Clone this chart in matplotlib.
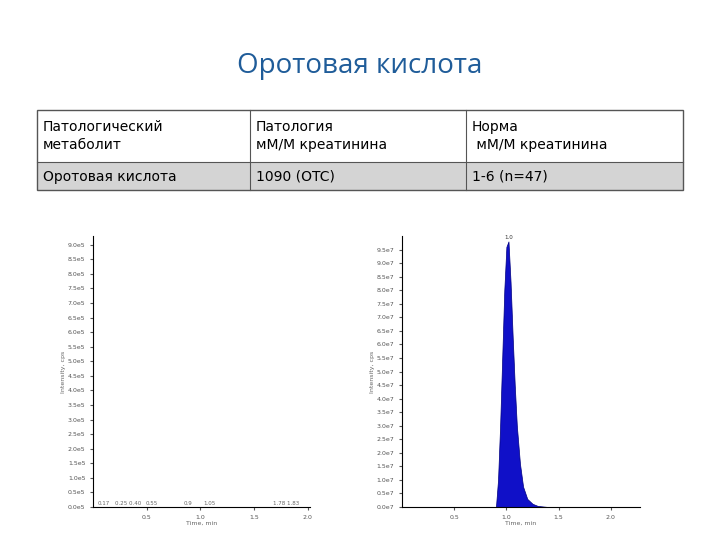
import matplotlib.pyplot as plt
from matplotlib.patches import Rectangle

W, H = 720, 540

title = "Оротовая кислота"
header = ["Патологический\nметаболит", "Патология\nмМ/М креатинина", "Норма\n мМ/М креатинина"]
row = ["Оротовая кислота", "1090 (OTC)", "1-6 (n=47)"]
col_edges = [37, 250, 466, 683]

# right chromatogram peak (time, min; intensity, cps)
peak_t = [0.90, 0.92, 0.94, 0.96, 0.98, 1.00, 1.02, 1.04, 1.06, 1.08, 1.10, 1.13, 1.16, 1.20, 1.25, 1.30, 1.40]
peak_i = [0.0, 1.0e7, 3.0e7, 5.5e7, 8.0e7, 9.6e7, 9.8e7, 8.3e7, 6.3e7, 4.5e7, 3.0e7, 1.6e7, 7.5e6, 3.0e6, 1.2e6, 4.0e5, 0.0]
# left chromatogram small peak labels
left_labels = [(0.10, "0.17"), (0.33, "0.25 0.40"), (0.55, "0.55"), (0.88, "0.9"), (1.08, "1.05"), (1.80, "1.78 1.83")]
right_labels = [(1.02, "1.0")]

fig = plt.figure(figsize=(W / 100, H / 100), dpi=100)

def fx(px):
    return px / W

def fy(py):
    return 1 - py / H

fig.text(0.5, fy(66), title, ha="center", va="center", fontsize=20,
         color="#1f5c99", family="Open Sans")

# table
bg = fig.add_axes([0, 0, 1, 1], zorder=-1)
bg.set_xlim(0, W)
bg.set_ylim(H, 0)
bg.axis("off")
bg.add_patch(Rectangle((37, 162), 646, 28, facecolor="#d4d4d4", edgecolor="none"))
bg.add_patch(Rectangle((37, 110), 646, 80, facecolor="none", edgecolor="#555555", lw=1))
bg.plot([37, 683], [162, 162], color="#555555", lw=0.8)
for x in col_edges[1:-1]:
    bg.plot([x, x], [110, 190], color="#555555", lw=0.8)
for i in range(3):
    bg.text(col_edges[i] + 6, 136, header[i], ha="left", va="center", fontsize=10, linespacing=1.4)
    bg.text(col_edges[i] + 6, 177, row[i], ha="left", va="center", fontsize=10)

def style(ax, ylab):
    for s in ["top", "right"]:
        ax.spines[s].set_visible(False)
    ax.tick_params(labelsize=4.5, length=2, colors="#555555")
    ax.set_xlabel("Time, min", fontsize=4.5, color="#666666", labelpad=1)
    ax.set_ylabel(ylab, fontsize=4.5, color="#666666", labelpad=1)

# left chromatogram
ax1 = fig.add_axes([fx(93), fy(507), fx(310 - 93), fy(236) - fy(507)])
ax1.set_xlim(0, 2.02)
ax1.set_ylim(0, 9.3e5)
ax1.set_xticks([0.5, 1.0, 1.5, 2.0])
ax1.set_yticks([i * 0.5e5 for i in range(19)])
ax1.set_yticklabels([f"{i * 0.5:.1f}e5" for i in range(19)])
for t, s in left_labels:
    ax1.text(t, 0.05e5, s, fontsize=4, color="#666666", ha="center", va="bottom")
style(ax1, "Intensity, cps")

# right chromatogram
ax2 = fig.add_axes([fx(402), fy(507), fx(640 - 402), fy(236) - fy(507)])
ax2.set_xlim(0.0, 2.28)
ax2.set_ylim(0, 1.0e8)
ax2.set_xticks([0.5, 1.0, 1.5, 2.0])
ax2.set_yticks([i * 5e6 for i in range(20)])
ax2.set_yticklabels([f"{i * 0.5:.1f}e7" for i in range(20)])
ax2.fill_between(peak_t, peak_i, color="#1010c8", lw=0.5, edgecolor="#000080")
for t, s in right_labels:
    ax2.text(t, 9.85e7, s, fontsize=4, color="#333333", ha="center", va="bottom", clip_on=False)
style(ax2, "Intensity, cps")

fig.savefig("out.png", dpi=100)
